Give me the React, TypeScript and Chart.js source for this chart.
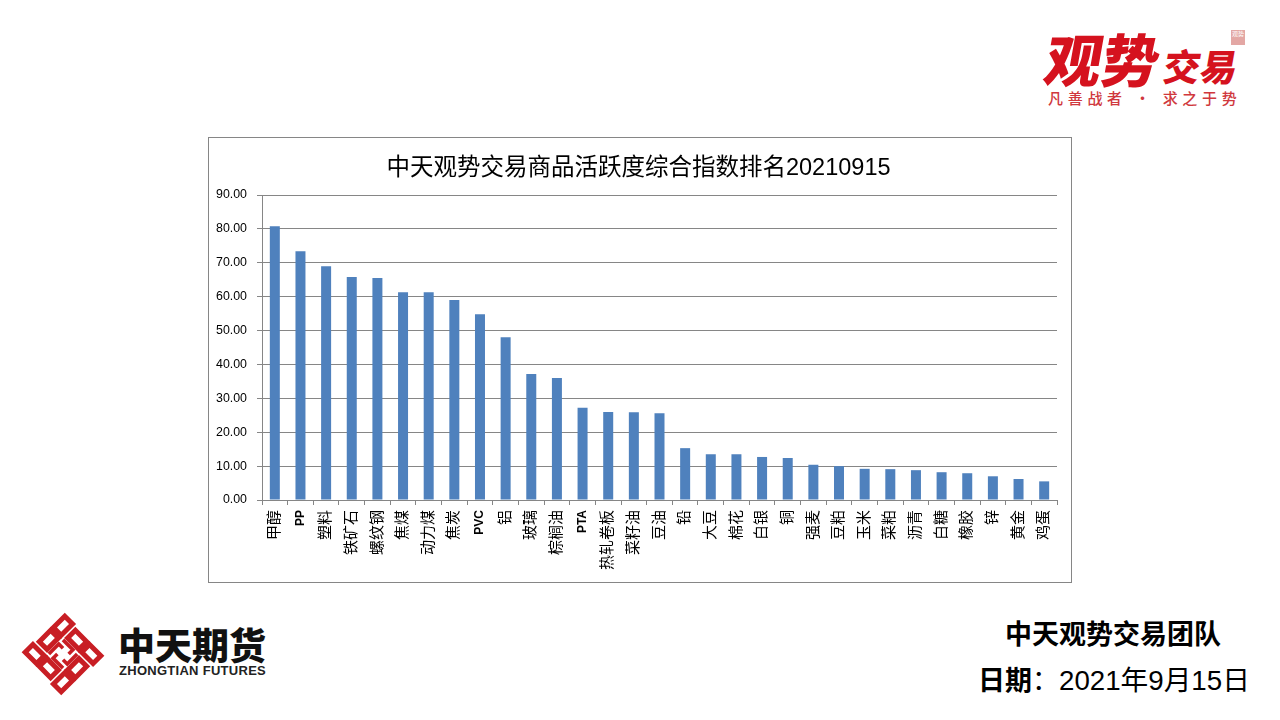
import React, { useEffect, useRef } from "react";
import { Chart, registerables } from "chart.js";

Chart.register(...registerables);

const categories = ["甲醇","PP","塑料","铁矿石","螺纹钢","焦煤","动力煤","焦炭","PVC","铝","玻璃","棕榈油","PTA","热轧卷板","菜籽油","豆油","铅","大豆","棉花","白银","铜","强麦","豆粕","玉米","菜粕","沥青","白糖","橡胶","锌","黄金","鸡蛋"];
const activityIndex = [80.8,73.4,69.0,65.8,65.5,61.3,61.3,59.0,54.8,48.0,37.2,36.0,27.2,26.0,25.9,25.6,15.3,13.5,13.5,12.7,12.4,10.4,10.0,9.2,9.1,8.8,8.2,7.9,7.0,6.2,5.5];
const chartTitle = "中天观势交易商品活跃度综合指数排名20210915";
const boldLabels = ["PP", "PVC", "PTA"];
const logoCells = [[-20,-20,1],[0,-20,0],[20,-20,0],[-20,0,1],[20,0,1],[-20,20,0],[0,20,0],[20,20,1]];

const FONT = '"Liberation Sans","Noto Sans CJK SC",sans-serif';
const CJK = '"Noto Sans CJK SC",sans-serif';
const GREY = "#868686";

const abs = (left: number, top: number, extra: any = {}) => ({ position: "absolute", left, top, whiteSpace: "nowrap", lineHeight: 1, ...extra } as React.CSSProperties);

const titleNudge = {
  id: "titleNudge",
  afterLayout(chart: any) {
    if (chart.titleBlock) {
      chart.titleBlock.left += 2;
      chart.titleBlock.right += 2;
    }
  },
};

function Diamond() {
  return (
    <svg style={{ position: "absolute", left: 18, top: 609 }} width={90} height={90} viewBox="-45 -45 90 90">
      <g transform="rotate(45)" fill="none" stroke="#c81e24">
        {logoCells.map(([x, y, vertical], i) => {
          const w = vertical ? 11 : 16;
          const h = vertical ? 16 : 11;
          return <rect key={i} x={x - w / 2} y={y - h / 2} width={w} height={h} strokeWidth={5} />;
        })}
        <path d="M-10 -10H4V-4M10 10H-4V4M-10 10V-4H-4M10 -10V4H4" strokeWidth={3.6} />
      </g>
    </svg>
  );
}

export default function App() {
  const ref = useRef<HTMLCanvasElement | null>(null);
  useEffect(() => {
    const chart = new Chart(ref.current as HTMLCanvasElement, {
      type: "bar",
      plugins: [titleNudge],
      data: {
        labels: categories,
        datasets: [{ data: activityIndex, backgroundColor: "#4F81BD", barPercentage: 0.39, categoryPercentage: 1 }],
      },
      options: {
        animation: false,
        responsive: false,
        maintainAspectRatio: false,
        layout: { padding: { left: 8, right: 15, top: 0, bottom: 2 } },
        plugins: {
          legend: { display: false },
          tooltip: { enabled: false },
          title: {
            display: true,
            text: chartTitle,
            color: "#000",
            font: { family: FONT, size: 23.5, weight: "normal", lineHeight: 1.2 },
            padding: { top: 17, bottom: 12.8 },
          },
        },
        scales: {
          x: {
            offset: true,
            afterFit: (s: any) => { s.height = 81; },
            grid: { offset: true, drawOnChartArea: false, color: GREY, tickLength: 5, tickColor: GREY },
            border: { color: GREY },
            ticks: {
              autoSkip: false,
              maxRotation: 90,
              minRotation: 90,
              padding: 5,
              color: "#000",
              font: (ctx: any) => boldLabels.includes(categories[ctx.index])
                ? { family: FONT, size: 12, weight: "bold" }
                : { family: FONT, size: 15, weight: "normal" },
            },
          },
          y: {
            min: 0,
            max: 90,
            afterFit: (s: any) => { s.width = 46; },
            grid: { color: GREY, tickLength: 5, tickColor: GREY },
            border: { color: GREY },
            ticks: {
              stepSize: 10,
              padding: 10,
              color: "#000",
              font: { family: FONT, size: 12.4 },
              callback: (v: any) => Number(v).toFixed(2),
            },
          },
        },
      },
    } as any);
    return () => chart.destroy();
  }, []);

  return (
    <div style={{ position: "fixed", left: 0, top: 0, width: 1280, height: 720, background: "#fff", overflow: "hidden" }}>
      {/* top-right brand */}
      <div style={abs(1046, 29, { fontFamily: CJK, fontWeight: 900, fontSize: 57, color: "#d5121e", transform: "skewX(-10deg)" })}>观势</div>
      <div style={abs(1164, 47, { fontFamily: CJK, fontWeight: 900, fontSize: 37, color: "#d5121e", transform: "skewX(-10deg)" })}>交易</div>
      <div style={abs(1048, 90, { fontFamily: CJK, fontWeight: 500, fontSize: 15, color: "#d0383d", letterSpacing: 4.7 })}>凡善战者 · 求之于势</div>
      <div style={abs(1231, 30, { width: 14, height: 15, background: "#e3a7a4", color: "#fff", fontFamily: CJK, fontSize: 6, textAlign: "center", lineHeight: "7px", whiteSpace: "normal" })}>观势</div>

      {/* chart */}
      <div style={{ position: "absolute", left: 208, top: 137, width: 864, height: 446, boxSizing: "border-box", border: `1px solid ${GREY}` }} />
      <canvas ref={ref} width={864} height={446} style={{ position: "absolute", left: 208, top: 137, display: "block" }} />

      {/* bottom-left brand */}
      <Diamond />
      <div style={abs(118, 626, { fontFamily: CJK, fontWeight: 900, fontSize: 37, color: "#111" })}>中天期货</div>
      <div style={abs(119, 664, { fontFamily: '"Liberation Sans",sans-serif', fontWeight: 700, fontSize: 13, color: "#222", letterSpacing: 0.28 })}>ZHONGTIAN FUTURES</div>

      {/* footer */}
      <div style={abs(1005, 619, { fontFamily: CJK, fontWeight: 700, fontSize: 27, color: "#000" })}>中天观势交易团队</div>
      <div style={abs(978, 667, { fontFamily: FONT, fontSize: 27.7, color: "#000" })}>
        <b style={{ fontSize: 27 }}>日期</b><span style={{ fontSize: 27 }}>：</span>2021年9月15日
      </div>
    </div>
  );
}
